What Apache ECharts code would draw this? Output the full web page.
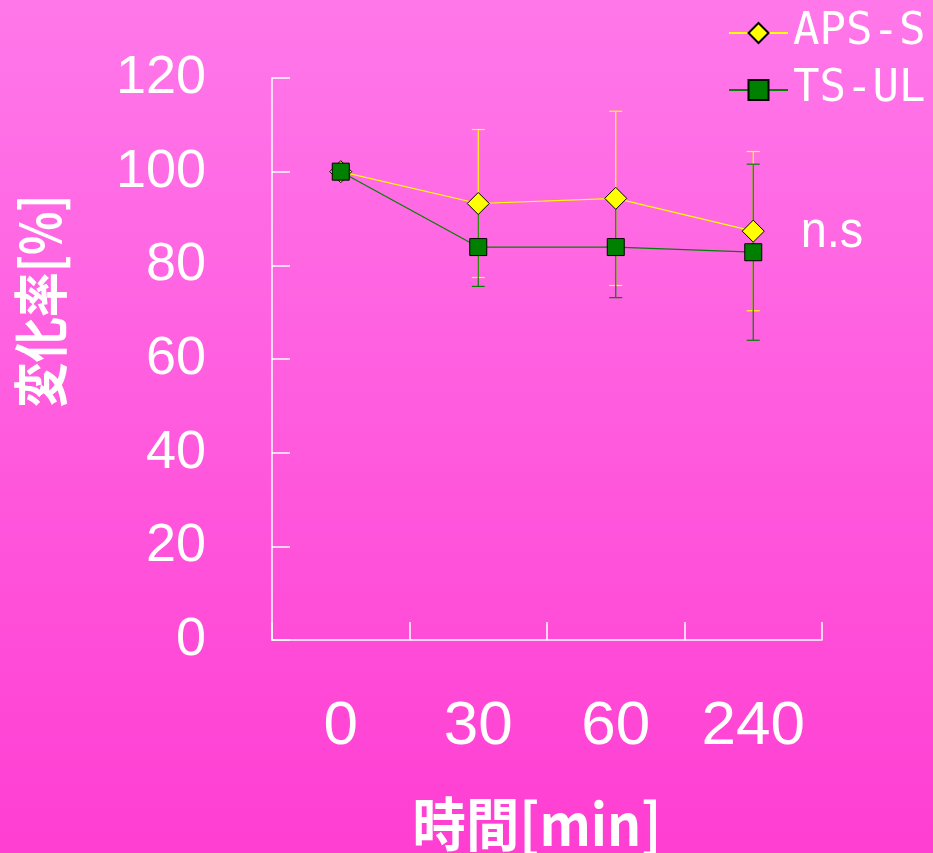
<!DOCTYPE html>
<html>
<head>
<meta charset="utf-8">
<script src="https://cdn.jsdelivr.net/npm/echarts@6/dist/echarts.min.js"></script>
<style>
  html, body { margin: 0; padding: 0; }
  #chart { width: 933px; height: 853px; }
</style>
</head>
<body>
<div id="chart"></div>
<script>
// Time points (minutes) and change rate (%) with ± error for each group
const timeLabels = ['0', '30', '60', '240'];
const apsMean = [100, 93.2, 94.3, 87.3];
const apsErr  = [0, 15.8, 18.6, 17.0];
const tsMean  = [100, 83.9, 83.9, 82.8];
const tsErr   = [0, 8.4, 10.8, 18.8];
const yTicks  = [0, 20, 40, 60, 80, 100, 120];

const APS_COLOR = '#ffff00';
const TS_COLOR = '#008000';
const NUM_FONT = '"Liberation Sans", Arial, sans-serif';
const CJK_FONT = '"Noto Sans CJK JP", sans-serif';

function errData(mean, err) {
  return mean.map((m, i) => [i, m - err[i], m + err[i]]).filter((d, i) => err[i] > 0);
}

function errSeries(name, mean, err, color) {
  return {
    type: 'custom',
    name: name + '-err',
    data: errData(mean, err),
    silent: true,
    z: 1,
    renderItem: function (params, api) {
      const x = api.value(0);
      const lo = api.coord([x, api.value(1)]);
      const hi = api.coord([x, api.value(2)]);
      const half = 6.5;
      const style = { stroke: color, lineWidth: 1.2 };
      return {
        type: 'group',
        children: [
          { type: 'line', shape: { x1: lo[0], y1: lo[1], x2: hi[0], y2: hi[1] }, style: style },
          { type: 'line', shape: { x1: lo[0] - half, y1: lo[1], x2: lo[0] + half, y2: lo[1] }, style: style },
          { type: 'line', shape: { x1: hi[0] - half, y1: hi[1], x2: hi[0] + half, y2: hi[1] }, style: style }
        ]
      };
    }
  };
}

const chart = echarts.init(document.getElementById('chart'));
chart.setOption({
  backgroundColor: {
    type: 'linear', x: 0, y: 0, x2: 0, y2: 1,
    colorStops: [
      { offset: 0, color: '#ff78ea' },
      { offset: 1, color: '#ff3ed2' }
    ]
  },
  animation: false,
  grid: { left: 272, right: 111, top: 78, bottom: 213 },
  legend: {
    data: ['APS-S', 'TS-UL'],
    orient: 'vertical',
    left: 723,
    top: 6,
    itemWidth: 59,
    itemHeight: 25,
    itemGap: 13,
    textStyle: { color: '#ffffff', fontSize: 44, fontFamily: '"DejaVu Sans Mono", monospace' }
  },
  xAxis: {
    type: 'category',
    data: timeLabels,
    boundaryGap: true,
    axisLine: { lineStyle: { color: '#ffffff', width: 1.5 } },
    axisTick: { show: true, interval: 0, inside: true, length: 18, lineStyle: { color: '#ffffff', width: 1.5 } },
    axisLabel: { color: '#ffffff', fontSize: 62, fontFamily: NUM_FONT, margin: 56, interval: 0 },
    splitLine: { show: false }
  },
  yAxis: {
    type: 'value',
    min: 0,
    max: 120,
    interval: 20,
    axisLine: { show: true, lineStyle: { color: '#ffffff', width: 1.5 } },
    axisTick: { show: true, inside: true, length: 18, lineStyle: { color: '#ffffff', width: 1.5 } },
    axisLabel: {
      color: '#ffffff', fontSize: 54, fontFamily: NUM_FONT, margin: 66,
      formatter: v => (yTicks.indexOf(v) >= 0 ? String(v) : '')
    },
    splitLine: { show: false }
  },
  graphic: [
    {
      type: 'text', x: 40, y: 301, rotation: Math.PI / 2, scaleX: 0.82,
      style: { text: '変化率[%]', fill: '#ffffff', font: 'bold 55px ' + CJK_FONT, align: 'center', verticalAlign: 'middle' }
    },
    {
      type: 'text', x: 537, y: 824, scaleX: 0.92,
      style: { text: '時間[min]', fill: '#ffffff', font: 'bold 58px ' + CJK_FONT, align: 'center', verticalAlign: 'middle' }
    },
    {
      type: 'text', x: 832, y: 233, scaleX: 0.9,
      style: { text: 'n.s', fill: '#ffffff', font: '52px ' + NUM_FONT, align: 'center', verticalAlign: 'middle' }
    }
  ],
  series: [
    errSeries('APS-S', apsMean, apsErr, APS_COLOR),
    errSeries('TS-UL', tsMean, tsErr, TS_COLOR),
    {
      name: 'APS-S',
      type: 'line',
      data: apsMean,
      z: 3,
      symbol: 'diamond',
      symbolSize: 22,
      lineStyle: { color: APS_COLOR, width: 1.2 },
      itemStyle: { color: APS_COLOR, borderColor: '#000000', borderWidth: 1 }
    },
    {
      name: 'TS-UL',
      type: 'line',
      data: tsMean,
      z: 4,
      symbol: 'rect',
      symbolSize: 17,
      lineStyle: { color: TS_COLOR, width: 1.2 },
      itemStyle: { color: TS_COLOR, borderColor: '#000000', borderWidth: 1 }
    }
  ]
});
</script>
</body>
</html>
